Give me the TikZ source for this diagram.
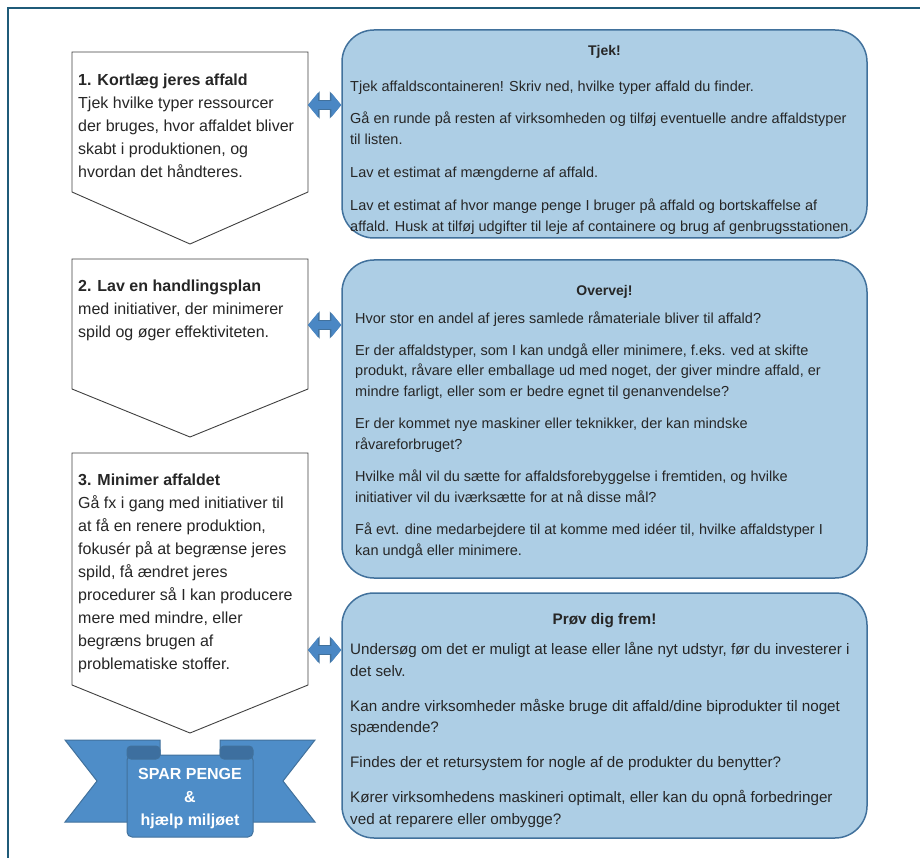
\documentclass[tikz,border=0pt]{standalone}
\usepackage{fontspec}
\setmainfont{Liberation Sans}
\usetikzlibrary{arrows.meta}

\definecolor{framecol}{HTML}{1F5B79}
\definecolor{boxfill}{HTML}{ADCEE5}
\definecolor{boxline}{HTML}{41719C}
\definecolor{ribbonblue}{HTML}{4E8DC8}
\definecolor{folddark}{HTML}{3D6F9F}
\definecolor{arrowblue}{HTML}{4A87C4}
\definecolor{txt}{HTML}{262626}

\tikzset{
  stepbody/.style={minimum width=236pt, inner sep=0pt, outer sep=0pt},
  stepline/.style={draw=black!75, line width=0.9pt, fill=white},
  steptext/.style={anchor=north west, align=left, inner sep=0pt, text=txt,
    font=\fontsize{16}{23}\selectfont},
  infobox/.style={draw=boxline, fill=boxfill, line width=1.5pt,
    rounded corners=32pt, minimum width=525pt, inner sep=0pt},
  infohead/.style={font=\bfseries\fontsize{14}{16}\selectfont, text=txt, inner sep=0pt},
  infotext/.style={anchor=north west, align=left, inner sep=0pt, text=txt,
    font=\fontsize{14.5}{20.8}\selectfont},
  dbledge/.style={line width=10.5pt, draw=boxline,
    {Triangle[length=11.5pt,width=26.5pt]}-{Triangle[length=11.5pt,width=26.5pt]}},
  dblarrow/.style={line width=8.5pt, draw=arrowblue,
    {Triangle[length=10pt,width=24pt]}-{Triangle[length=10pt,width=24pt]}},
  ribbon/.style={draw=boxline, fill=ribbonblue, line width=1pt},
  ribbonfold/.style={draw=boxline, fill=folddark, line width=1pt},
}

\begin{document}
\begin{tikzpicture}[x=1pt, y=-1pt]
\useasboundingbox (0,0) rectangle (920,858);

\draw[framecol, line width=2pt] (8,8) rectangle (950,900);

%%%%%%%%%%%%%%%%%%%%%%%%%%%%%%%%%%%%%%%%
% steps on the left

\node[stepbody, minimum height=140pt] (s1) at (190,122) {};
\draw[stepline] (s1.north west) -- (s1.north east) -- (s1.south east) -- (190,244) -- (s1.south west) -- cycle;
\node[steptext] (t1) at (78,74) {\textbf{1. Kortlæg jeres affald}\\
Tjek hvilke typer ressourcer\\
der bruges, hvor affaldet bliver\\
skabt i produktionen, og\\
hvordan det håndteres.};

\node[stepbody, minimum height=130pt] (s2) at (190,324) {};
\draw[stepline] (s2.north west) -- (s2.north east) -- (s2.south east) -- (190,437) -- (s2.south west) -- cycle;
\node[steptext] (t2) at (78,280) {\textbf{2. Lav en handlingsplan}\\
med initiativer, der minimerer\\
spild og øger effektiviteten.};

\node[stepbody, minimum height=232pt] (s3) at (190,569) {};
\draw[stepline] (s3.north west) -- (s3.north east) -- (s3.south east) -- (190,733) -- (s3.south west) -- cycle;
\node[steptext] (t3) at (78,474) {\textbf{3. Minimer affaldet}\\
Gå fx i gang med initiativer til\\
at få en renere produktion,\\
fokusér på at begrænse jeres\\
spild, få ændret jeres\\
procedurer så I kan producere\\
mere med mindre, eller\\
begræns brugen af\\
problematiske stoffer.};

%%%%%%%%%%%%%%%%%%%%%%%%%%%%%%%%%%%%%%%%
% boxes on the right

\node[infobox, minimum height=208pt] (tjek) at (604.5,134) {};
\node[infohead] (tjekhead) at (604.5,52) {Tjek!};
\node[infotext] (tjektxt) at (350,80.5) {Tjek affaldscontaineren! Skriv ned, hvilke typer affald du finder.\\[11.5pt]
Gå en runde på resten af virksomheden og tilføj eventuelle andre affaldstyper\\
til listen.\\[12.5pt]
Lav et estimat af mængderne af affald.\\[12.5pt]
Lav et estimat af hvor mange penge I bruger på affald og bortskaffelse af\\
affald. Husk at tilføj udgifter til leje af containere og brug af genbrugsstationen.};

\node[infobox, minimum height=318pt] (overvej) at (604.5,419) {};
\node[infohead] (overvejhead) at (604.5,292) {Overvej!};
\node[infotext, font=\fontsize{14.5}{20.3}\selectfont] (overvejtxt) at (355,311.5) {Hvor stor en andel af jeres samlede råmateriale bliver til affald?\\[12pt]
Er der affaldstyper, som I kan undgå eller minimere, f.eks. ved at skifte\\
produkt, råvare eller emballage ud med noget, der giver mindre affald, er\\
mindre farligt, eller som er bedre egnet til genanvendelse?\\[12.4pt]
Er der kommet nye maskiner eller teknikker, der kan mindske\\
råvareforbruget?\\[12.4pt]
Hvilke mål vil du sætte for affaldsforebyggelse i fremtiden, og hvilke\\
initiativer vil du iværksætte for at nå disse mål?\\[12.4pt]
Få evt. dine medarbejdere til at komme med idéer til, hvilke affaldstyper I\\
kan undgå eller minimere.};

\node[infobox, minimum height=245pt] (prov) at (604.5,715.5) {};
\node[infohead, font=\bfseries\fontsize{15.3}{17}\selectfont] (provhead) at (604.5,621) {Prøv dig frem!};
\node[infotext, font=\fontsize{15.2}{21.8}\selectfont] (provtxt) at (350,642) {Undersøg om det er muligt at lease eller låne nyt udstyr, før du investerer i\\
det selv.\\[13pt]
Kan andre virksomheder måske bruge dit affald/dine biprodukter til noget\\
spændende?\\[13pt]
Findes der et retursystem for nogle af de produkter du benytter?\\[13pt]
Kører virksomhedens maskineri optimalt, eller kan du opnå forbedringer\\
ved at reparere eller ombygge?};

%%%%%%%%%%%%%%%%%%%%%%%%%%%%%%%%%%%%%%%%
% double arrows

\draw[dbledge] (s1.east |- 0,105) -- (tjek.west |- 0,105);
\draw[dblarrow] (s1.east |- 0,105) -- (tjek.west |- 0,105);
\draw[dbledge] (s2.east |- 0,325) -- (overvej.west |- 0,325);
\draw[dblarrow] (s2.east |- 0,325) -- (overvej.west |- 0,325);
\draw[dbledge] (s3.east |- 0,650) -- (prov.west |- 0,650);
\draw[dblarrow] (s3.east |- 0,650) -- (prov.west |- 0,650);

%%%%%%%%%%%%%%%%%%%%%%%%%%%%%%%%%%%%%%%%
% ribbon

\draw[ribbon] (65,740) -- (160,740) -- (160,822) -- (65,822) -- (97,781) -- cycle;
\draw[ribbon] (315,740) -- (220,740) -- (220,822) -- (315,822) -- (283,781) -- cycle;
\draw[ribbon, rounded corners=5pt] (127,755) rectangle (253,837);
\draw[ribbonfold, rounded corners=4pt] (127,746) rectangle (160,759);
\draw[ribbonfold, rounded corners=4pt] (220,746) rectangle (253,759);

\node[align=center, text=white, inner sep=0pt, font=\bfseries\fontsize{16}{23}\selectfont] (sparpenge) at (190,799) {SPAR PENGE\\ \&\\ hjælp miljøet};

\end{tikzpicture}
\end{document}
